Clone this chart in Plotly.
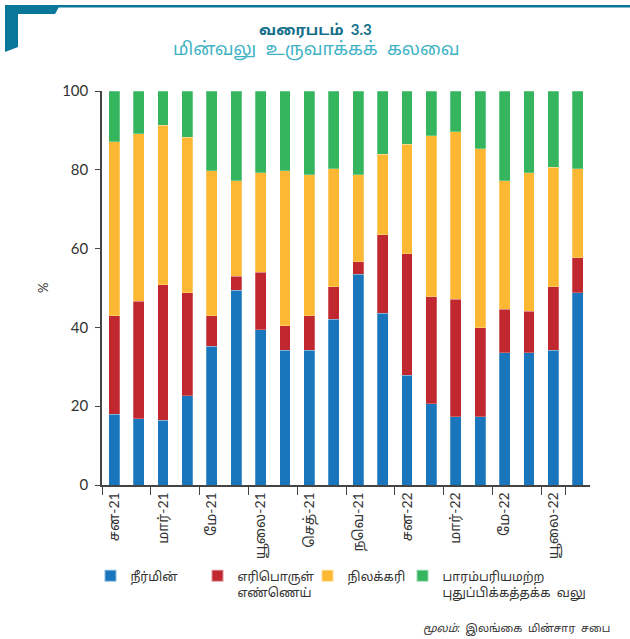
import plotly.graph_objects as go

months = ["Jan-21","Feb-21","Mar-21","Apr-21","May-21","Jun-21","Jul-21","Aug-21","Sep-21","Oct-21",
          "Nov-21","Dec-21","Jan-22","Feb-22","Mar-22","Apr-22","May-22","Jun-22","Jul-22","Aug-22"]
tick_months = ["Jan-21","Mar-21","May-21","Jul-21","Sep-21","Nov-21","Jan-22","Mar-22","May-22","Jul-22"]
tick_labels = ["சன-21","மார்-21","மே-21","யூலை-21","செத்-21","நவெ-21","சன-22","மார்-22","மே-22","யூலை-22"]

hydro = [17.9,16.8,16.4,22.7,35.2,49.4,39.4,34.2,34.2,42.1,53.5,43.6,27.9,20.6,17.3,17.3,33.6,33.6,34.2,48.8]
oil   = [25.1,29.9,34.4,26.1,7.8,3.6,14.6,6.2,8.8,8.2,3.2,19.9,30.8,27.2,29.9,22.6,11.0,10.5,16.1,8.9]
coal  = [44.1,42.5,40.5,39.4,36.8,24.2,25.2,39.4,35.7,30.0,22.0,20.4,27.8,40.9,42.5,45.5,32.6,35.1,30.4,22.6]
ncre  = [12.9,10.8,8.7,11.8,20.2,22.8,20.8,20.2,21.3,19.7,21.3,16.1,13.5,11.3,10.3,14.6,22.8,20.8,19.3,19.7]

series_names = ["நீர்மின்", "எரிபொருள்<br>எண்ணெய்", "நிலக்கரி", "பாரம்பரியமற்ற<br>புதுப்பிக்கத்தக்க  வலு"]
colors = ["#1976bc", "#c1272f", "#fdb833", "#34b55e"]

W, H = 630, 639
L, R, T, B = 102, 40, 91, 154
PW, PH = W - L - R, H - T - B

def px(x):
    return (x - L) / PW

def py(y):
    return (H - B - y) / PH

legend_ids = ["legend", "legend2", "legend3", "legend4"]
legend_sq_x = [111.5, 218.5, 328.5, 423.5]

fig = go.Figure()
for name, vals, col, lg in zip(series_names, [hydro, oil, coal, ncre], colors, legend_ids):
    fig.add_trace(go.Bar(x=months, y=vals, name=name, legend=lg,
                         marker=dict(color=col, line=dict(color="rgba(255,255,255,0.5)", width=0.5))))

font_fam = "Lato, 'Noto Sans', 'Noto Sans Tamil', sans-serif"

legend_common = dict(orientation="v", yanchor="top", xanchor="left", valign="top",
                     font=dict(size=12.5, color="#333333"), bgcolor="rgba(0,0,0,0)",
                     itemsizing="constant")
legends = {}
for lg, sx in zip(legend_ids, legend_sq_x):
    legends[lg] = dict(legend_common, x=px(sx - 21), y=py(561))

fig.update_layout(
    width=W, height=H,
    margin=dict(l=L, r=R, t=T, b=B, autoexpand=False),
    barmode="stack", bargap=0.55,
    plot_bgcolor="white", paper_bgcolor="white",
    font=dict(family=font_fam, color="#333333"),
    showlegend=True,
    xaxis=dict(type="category", tickmode="array", tickvals=tick_months, ticktext=tick_labels,
               tickangle=-90, tickson="boundaries", ticks="outside", ticklen=8, tickcolor="#444",
               showline=True, linecolor="#444", linewidth=1.5, showgrid=False,
               tickfont=dict(size=14, color="#333333")),
    yaxis=dict(range=[0, 100], tickvals=[0, 20, 40, 60, 80, 100], ticks="outside", ticklen=5,
               tickcolor="#444", showline=True, linecolor="#444", linewidth=1.5, showgrid=False,
               zeroline=False, tickfont=dict(size=15, color="#333333"), ticklabelstandoff=4),
    **legends,
)

annotations = [
    dict(text="<b>வரைபடம்  3.3</b>", x=px(315), y=py(30), xref="paper", yref="paper",
         showarrow=False, xanchor="center", yanchor="middle", font=dict(size=15, color="#146f8c")),
    dict(text="மின்வலு  உருவாக்கக்  கலவை", x=px(316), y=py(49), xref="paper", yref="paper",
         showarrow=False, xanchor="center", yanchor="middle", font=dict(size=18, color="#3fb3c5")),
    dict(text="%", x=px(43), y=py(288), xref="paper", yref="paper", textangle=-90,
         showarrow=False, xanchor="center", yanchor="middle", font=dict(size=13, color="#333333")),
    dict(text="<i>மூலம்:</i>  இலங்கை  மின்சார  சபை", x=px(612), y=py(628), xref="paper", yref="paper",
         showarrow=False, xanchor="right", yanchor="middle", font=dict(size=11, color="#333333")),
]
fig.update_layout(annotations=annotations)

# corner decoration
teal = "#08779a"
fig.add_shape(type="rect", xref="paper", yref="paper", x0=px(5), x1=px(630), y0=py(7.5), y1=py(5),
              fillcolor=teal, line=dict(width=0), layer="above")
path = "M {0},{1} L {2},{1} L {3},{4} L {5},{4} L {5},{6} L {7},{8} Z".format(
    px(5), py(5), px(60), px(55), py(14), px(18), py(47), px(5), py(52))
fig.add_shape(type="path", xref="paper", yref="paper", path=path, fillcolor=teal,
              line=dict(width=0), layer="above")

fig.write_html("out.html", config={"displayModeBar": False},
               post_script="document.body.style.margin='0';document.body.style.overflow='hidden';")
